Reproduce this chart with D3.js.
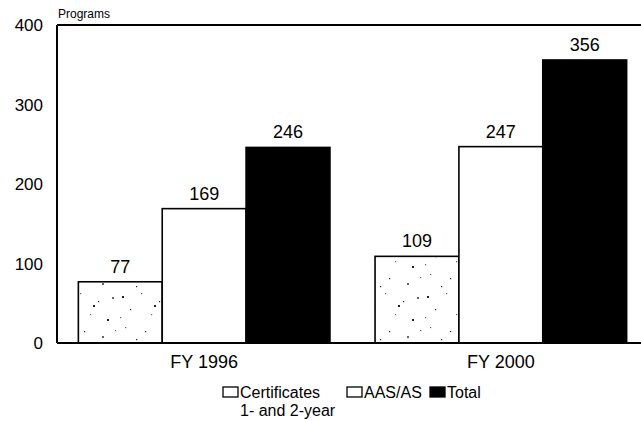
<!DOCTYPE html>
<html>
<head>
<meta charset="utf-8">
<script src="https://cdn.jsdelivr.net/npm/d3@7"></script>
<style>
  body { margin: 0; background: #fff; }
  text { font-family: "Liberation Sans", Arial, sans-serif; fill: #000; }
</style>
</head>
<body>
<svg id="chart" width="641" height="421"></svg>
<script>
var years = ["FY 1996", "FY 2000"]
var series = ["Certificates", "AAS/AS", "Total"]
var certificates = [77, 109]
var aas = [169, 247]
var total = [246, 356]
var yTicks = [0, 100, 200, 300, 400]

var svg = d3.select("#chart")
var margin = {top: 25, right: 1, bottom: 78, left: 57}
var height = 421 - margin.top - margin.bottom

var values = [certificates, aas, total]
var data = []
years.forEach(function(yr, i) {
  series.forEach(function(s, j) {
    data.push({year: yr, series: s, value: values[j][i]})
  })
})

var x0 = d3.scaleBand()
  .domain(years)
  .range([0, 591])
  .paddingInner(0.152)
  .paddingOuter(0.072)

var x1 = d3.scaleBand()
  .domain(series)
  .range([0, x0.bandwidth()])

var y = d3.scaleLinear()
  .domain([0, 400])
  .range([height, 0])

// sparse specks like the scanned stipple
var defs = svg.append("defs")
var pat = defs.append("pattern")
  .attr("id", "speck")
  .attr("patternUnits", "userSpaceOnUse")
  .attr("width", 61).attr("height", 53)
pat.append("rect").attr("width", 61).attr("height", 53).attr("fill", "#fff")
var specks = [[4,6],[23,3],[41,11],[55,7],[12,19],[33,24],[50,29],[7,37],[27,41],[45,46],[18,49],[58,40],[36,15],[2,27]]
specks.forEach(function(p, i) {
  pat.append("rect").attr("x", p[0]).attr("y", p[1])
    .attr("width", i % 3 == 0 ? 2 : 1.2).attr("height", i % 3 == 0 ? 2 : 1.2)
    .attr("fill", i % 2 ? "#666" : "#222")
})

var fills = {"Certificates": "url(#speck)", "AAS/AS": "#fff", "Total": "#000"}

var g = svg.append("g").attr("transform", "translate(" + margin.left + "," + margin.top + ")")

// frame: left and top
g.append("line").attr("x1", 0).attr("x2", 0).attr("y1", 0).attr("y2", height)
  .attr("stroke", "#000").attr("stroke-width", 2)
g.append("line").attr("x1", 0).attr("x2", 584).attr("y1", 0).attr("y2", 0)
  .attr("stroke", "#000").attr("stroke-width", 2)

g.selectAll(".bar")
  .data(data)
  .enter().append("rect")
  .attr("class", "bar")
  .attr("x", d => x0(d.year) + x1(d.series))
  .attr("y", d => y(d.value))
  .attr("width", x1.bandwidth())
  .attr("height", d => height - y(d.value))
  .attr("fill", d => fills[d.series])
  .attr("stroke", "#000")
  .attr("stroke-width", 1.6)

g.selectAll(".val")
  .data(data)
  .enter().append("text")
  .attr("class", "val")
  .attr("x", d => x0(d.year) + x1(d.series) + x1.bandwidth() / 2)
  .attr("y", d => y(d.value) - 9)
  .attr("text-anchor", "middle")
  .style("font-size", "18px")
  .text(d => d.value)

// bottom axis line
g.append("line").attr("x1", 0).attr("x2", 584).attr("y1", height).attr("y2", height)
  .attr("stroke", "#000").attr("stroke-width", 2)

g.selectAll(".ytick")
  .data(yTicks)
  .enter().append("text")
  .attr("class", "ytick")
  .attr("x", -14)
  .attr("y", d => y(d))
  .attr("dy", "0.36em")
  .attr("text-anchor", "end")
  .style("font-size", "17px")
  .text(d => d)

g.selectAll(".xlab")
  .data(years)
  .enter().append("text")
  .attr("class", "xlab")
  .attr("x", d => x0(d) + x0.bandwidth() / 2)
  .attr("y", height + 25)
  .attr("text-anchor", "middle")
  .style("font-size", "18px")
  .text(d => d)

svg.append("text")
  .attr("x", 58).attr("y", 18)
  .style("font-size", "12px")
  .text("Programs")

// legend
var legend = [
  {label: "Certificates", x: 223, fill: "#fff"},
  {label: "AAS/AS", x: 347, fill: "#fff"},
  {label: "Total", x: 430, fill: "#000"}
]
var lg = svg.append("g").selectAll("g").data(legend).enter().append("g")
lg.append("rect")
  .attr("x", d => d.x).attr("y", 387)
  .attr("width", 15).attr("height", 10)
  .attr("fill", d => d.fill)
  .attr("stroke", "#000").attr("stroke-width", 1.3)
lg.append("text")
  .attr("x", d => d.x + 17).attr("y", 398)
  .style("font-size", "16px")
  .text(d => d.label)
svg.append("text")
  .attr("x", 240).attr("y", 416)
  .style("font-size", "16px")
  .text("1- and 2-year")
</script>
</body>
</html>
